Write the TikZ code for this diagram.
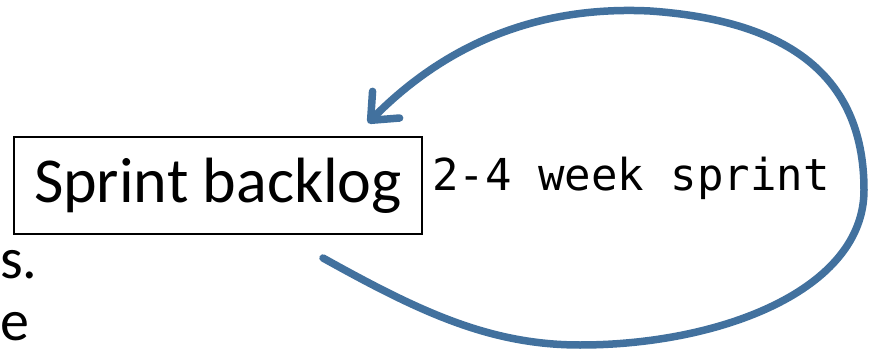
\documentclass[tikz,border=0pt]{standalone}
\usepackage{fontspec}
\setmainfont{Carlito}
\newfontfamily\codefont{DejaVu Sans Mono}
\usetikzlibrary{arrows.meta}
\definecolor{loopblue}{RGB}{66,113,158}
\tikzset{
  backlogbox/.style={draw=black, line width=1.4pt, minimum width=408pt, minimum height=97pt, inner sep=0pt,
    font=\fontsize{64}{70}\selectfont},
  sidetext/.style={inner sep=0pt, anchor=base west, font=\fontsize{58}{64}\selectfont},
  looparrow/.style={draw=loopblue, line width=7.5pt, line cap=round,
    -{Straight Barb[length=22pt,width=38pt,line cap=round,line join=round]}},
}
\begin{document}
\begin{tikzpicture}[x=1pt,y=-1pt]
  \useasboundingbox (0,0) rectangle (871,353);
  \node[backlogbox] (backlog) at (218,185.5) {Sprint backlog};
  \node[inner sep=0pt, anchor=west, font=\codefont\fontsize{44}{50}\selectfont] (label) at (432,178) {2-4 week sprint};
  \node[sidetext] (s1) at (0,278) {s.};
  \node[sidetext] (s2) at (0,340) {e};
  \coordinate (start) at (323,258);
  \coordinate (tip) at (368,123);
  \draw[looparrow] (start) .. controls (420,312) and (490,345) .. (580,345)
     .. controls (720,345) and (864,290) .. (864,190)
     .. controls (864,70) and (780,20) .. (650,11)
     .. controls (530,5) and (440,50) .. (tip);
\end{tikzpicture}
\end{document}
